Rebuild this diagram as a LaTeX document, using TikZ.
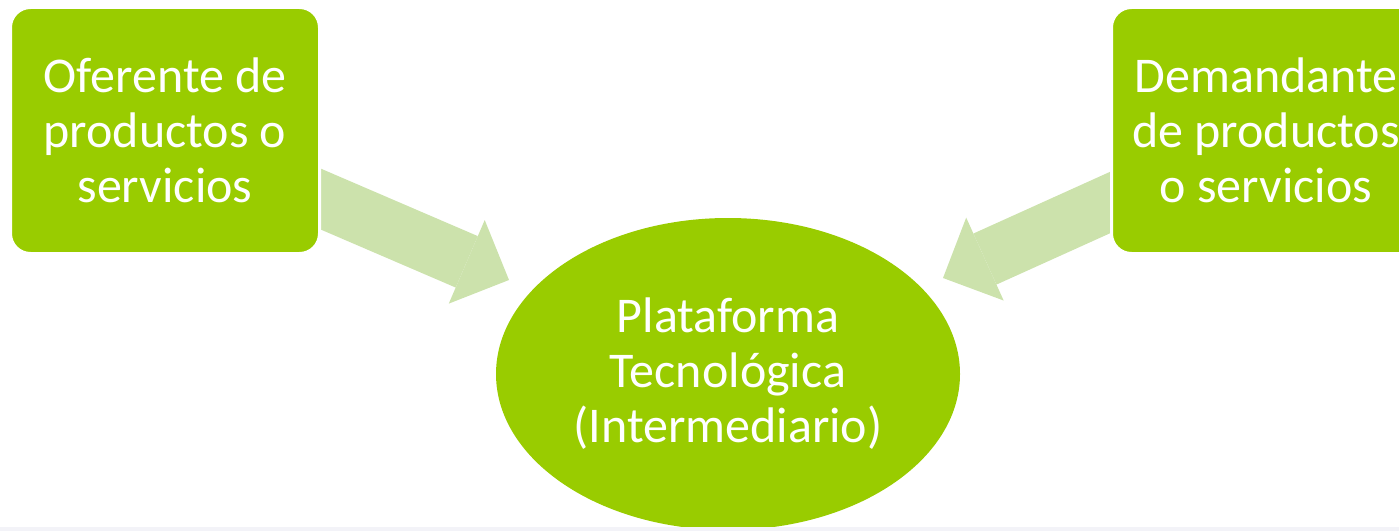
\documentclass[tikz,border=0pt]{standalone}
\usepackage{fontspec}
\setmainfont{Carlito}
\usetikzlibrary{shapes.geometric,arrows.meta,backgrounds}
\definecolor{lime}{HTML}{99CC00}
\definecolor{paleLime}{HTML}{CCE2AC}
\definecolor{stripGray}{HTML}{F3F3F8}
\def\px{0.75pt}

\begin{document}
\begin{tikzpicture}[x=\px,y=-\px,
	every node/.append style={font=\fontsize{37.5pt}{41.25pt}\selectfont, text=white, align=center}]
    \tikzstyle{party}=[rectangle,rounded corners=15pt,fill=lime,draw=white,line width=3*\px,
                       minimum width=309*\px,minimum height=246*\px,inner sep=0pt]
    \tikzstyle{hub}=[ellipse,fill=lime,minimum width=464*\px,minimum height=312*\px,inner sep=0pt]
    \tikzstyle{feed}=[draw=paleLime,line width=42pt,
                      -{Triangle[length=34.5pt,width=68.25pt,line width=0pt]}]

    \useasboundingbox (0,0) rectangle (1399,531);

    % Draw the two parties
    \node[party] (ofer) at (165,130.5) {Oferente de\\productos o\\servicios};
    \node[party] (deman) at (1266,130.5) {Demandante\\de productos\\o servicios};

    % Draw the platform in the middle
    \node[hub] (plat) at (728,374) {Plataforma\\Tecnológica\\(Intermediario)};

    % Arrow ends (the tails start inside the boxes)
    \coordinate (ofer-in) at (295,188);
    \coordinate (tip-L) at (509,280);
    \coordinate (deman-in) at (1140,189);
    \coordinate (tip-R) at (943,278);

    % Connect both parties with the platform
    \begin{pgfonlayer}{background}
    \draw[feed] (ofer-in) -- (tip-L);
    \draw[feed] (deman-in) -- (tip-R);
    \end{pgfonlayer}

    % Bottom strip
    \fill[stripGray] (0,527) rectangle (1399,531);
\end{tikzpicture}
\end{document}
